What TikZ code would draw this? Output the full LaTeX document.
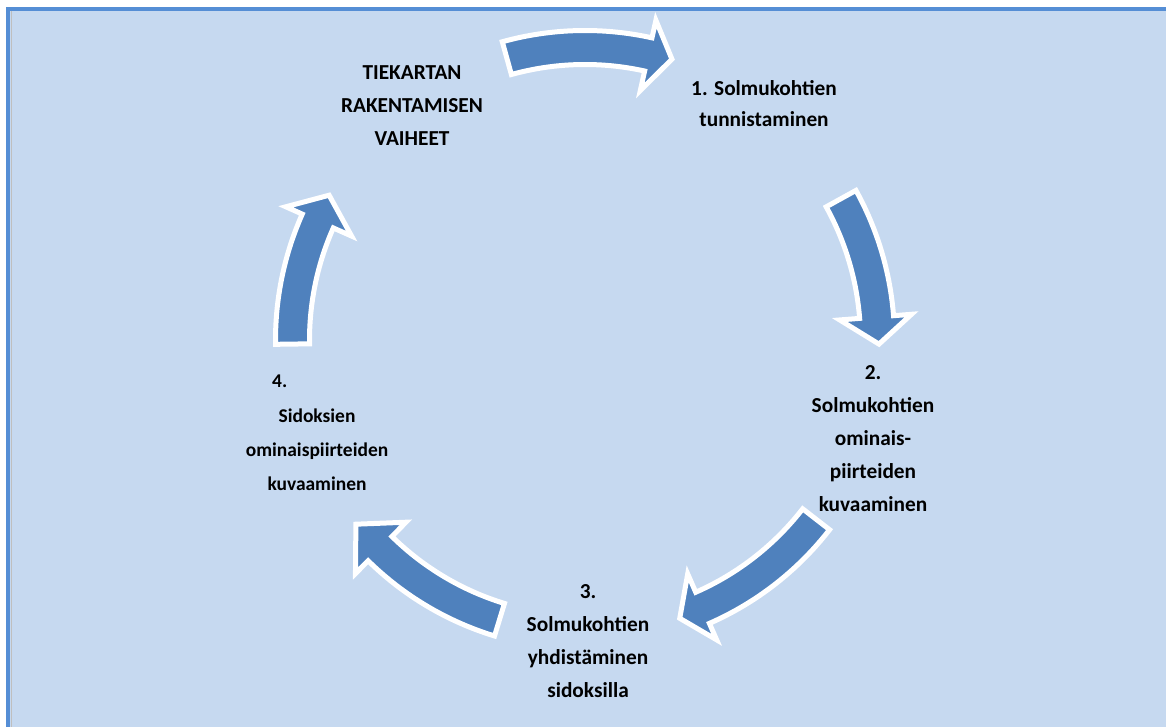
\documentclass[tikz,border=0pt]{standalone}
\usepackage{fontspec}
\setmainfont{Carlito}
\usetikzlibrary{calc}
\definecolor{bgblue}{HTML}{C6D9F0}
\definecolor{frameblue}{HTML}{558ED5}
\definecolor{arrowblue}{HTML}{4F81BD}
\definecolor{linegray}{HTML}{BFBFBF}
\tikzset{
  cyclearrow/.style={fill=arrowblue, draw=white, line width=3.75pt, line join=miter},
  steplabel/.style={align=center, inner sep=0pt, anchor=north, text=black,
    font=\bfseries\fontsize{16}{24.75}\selectfont},
}
\def\arrRin{275.5}
\def\arrRout{309.5}
\def\arrHin{255.5}
\def\arrHout{327.5}
\def\arrTip{294}
\newcommand\cyclearr[3]{%
  \draw[cyclearrow] ($(C)+(#1:\arrRin)$) arc[start angle=#1, end angle=#2, radius=\arrRin]
    -- ($(C)+(#2:\arrHin)$) -- ($(C)+(#3:\arrTip)$) -- ($(C)+(#2:\arrHout)$)
    -- ($(C)+(#2:\arrRout)$) arc[start angle=#2, end angle=#1, radius=\arrRout] -- cycle;}
\begin{document}
\begin{tikzpicture}[x=0.75pt,y=0.75pt]
\useasboundingbox (0,0) rectangle (1166,727);
\fill[white] (0,0) rectangle (1166,727);
\fill[bgblue] (10,0) rectangle (1166,716);
\fill[frameblue] (6,0) rectangle (10,720);
\fill[frameblue] (6,716) rectangle (1166,720);
\draw[linegray, line width=0.75pt] (11.2,0) -- (11.2,716);
\coordinate (C) at (585,387);
\cyclearr{105.5}{77.5}{72.8}
\cyclearr{28.9}{4.5}{-0.8}
\cyclearr{-37.8}{-66.3}{-71.2}
\cyclearr{-107}{-134.5}{-141.2}
\cyclearr{180.8}{156}{150.5}
\node[steplabel] (title) at (412,662) {TIEKARTAN\\RAKENTAMISEN\\VAIHEET};
\node[steplabel, font=\bfseries\fontsize{16}{23.25}\selectfont] (s1) at (764,647) {1. Solmukohtien\\tunnistaminen};
\node[steplabel] (s2) at (873,362) {2.\\Solmukohtien\\ominais-\\piirteiden\\kuvaaminen};
\node[steplabel] (s3) at (588,143) {3.\\Solmukohtien\\yhdistäminen\\sidoksilla};
\node[steplabel, font=\bfseries\fontsize{14.6}{25.6}\selectfont] (s4) at (317,352) {4.\hspace*{56pt}\\Sidoksien\\ominaispiirteiden\\kuvaaminen};
\end{tikzpicture}
\end{document}
